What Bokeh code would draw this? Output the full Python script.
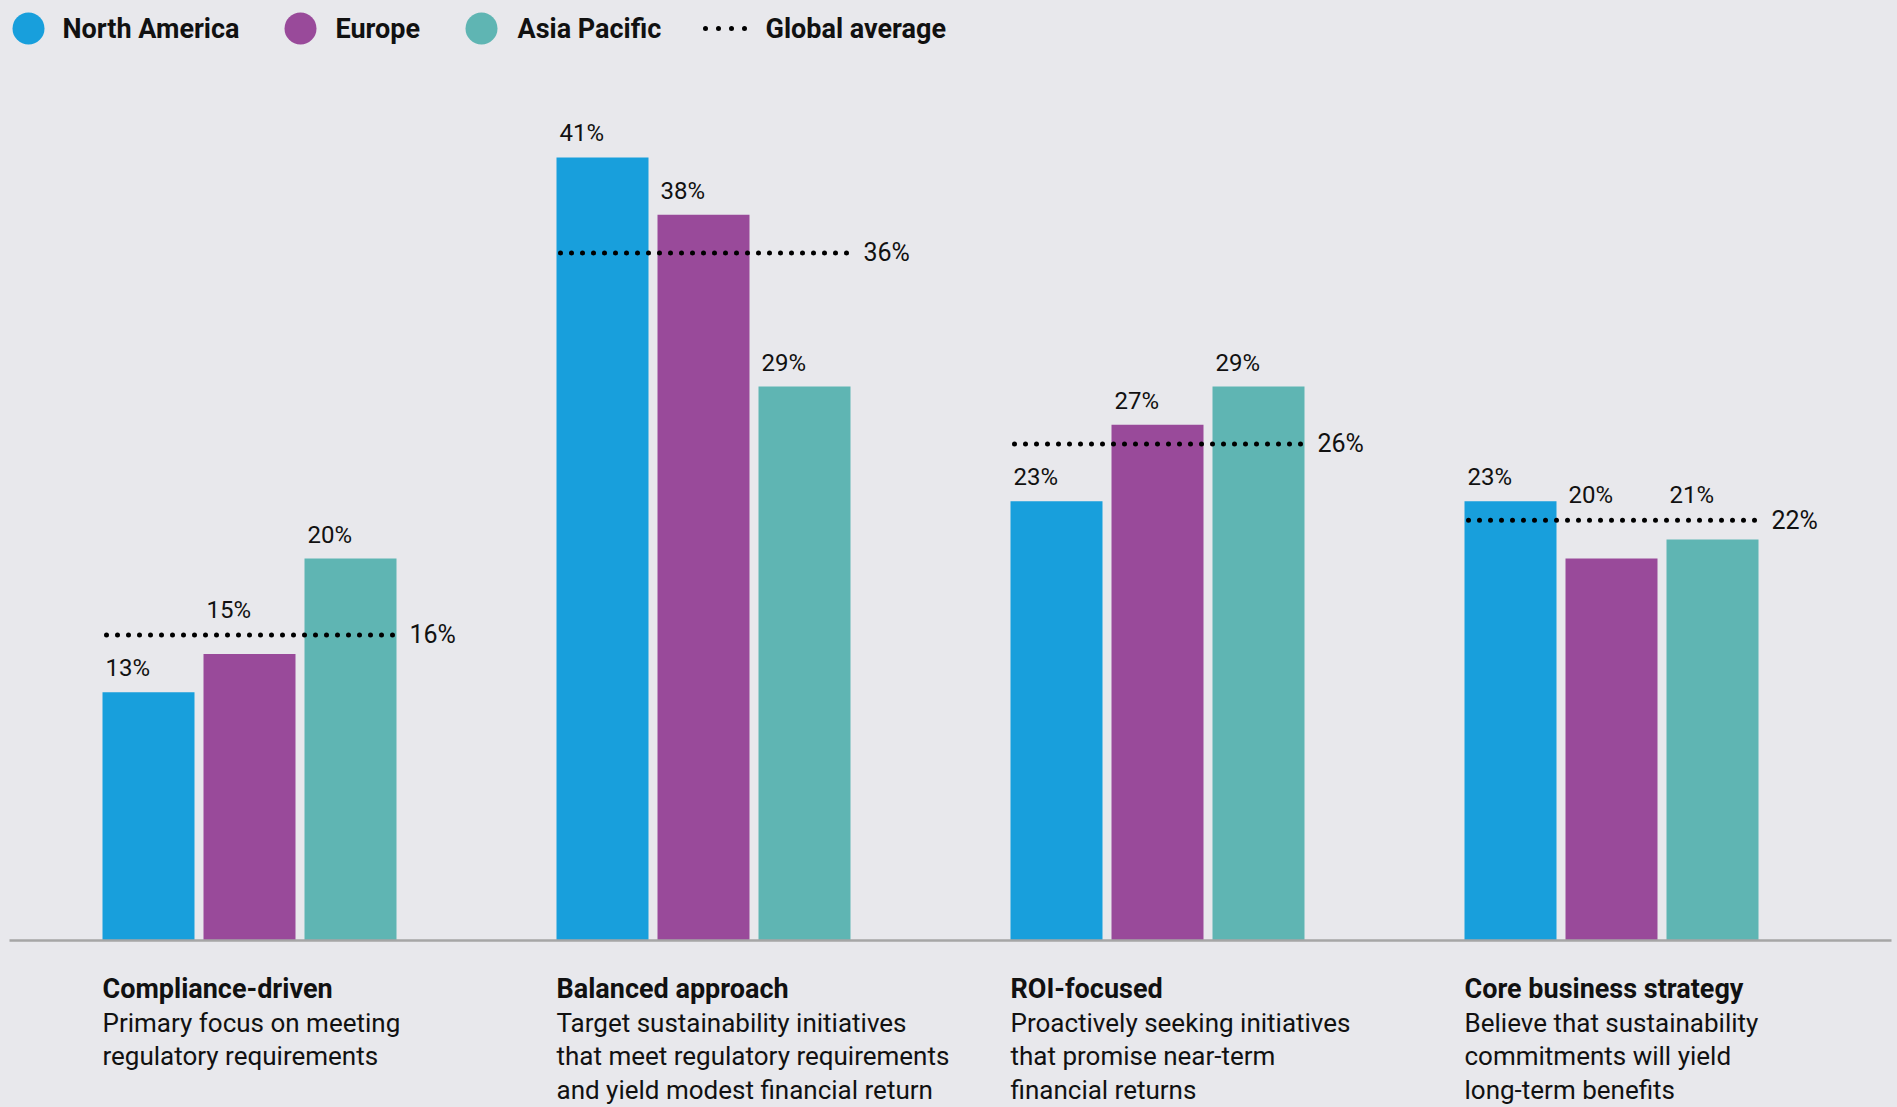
from bokeh.plotting import figure
from bokeh.models import Range1d
from bokeh.embed import file_html
from bokeh.resources import INLINE
from bokeh.core.properties import value

# ---------------- data ----------------
categories = ["Compliance-driven", "Balanced approach", "ROI-focused", "Core business strategy"]
descriptions = [
    ["Primary focus on meeting", "regulatory requirements"],
    ["Target sustainability initiatives", "that meet regulatory requirements", "and yield modest financial return"],
    ["Proactively seeking initiatives", "that promise near-term", "financial returns"],
    ["Believe that sustainability", "commitments will yield", "long-term benefits"],
]
series_names = ["North America", "Europe", "Asia Pacific"]
north_america = [13, 41, 23, 23]
europe = [15, 38, 27, 20]
asia_pacific = [20, 29, 29, 21]
global_average = [16, 36, 26, 22]
average_name = "Global average"

# ---------------- style / layout ----------------
colors = ["#189fdc", "#994a9a", "#5fb5b3"]
BG = "#e8e8ec"
FONT = "Roboto"
W, H = 1897, 1107
PX = 19.1            # pixels per percentage point
BASE = 940           # screen y of zero line
GROUP0 = 102         # left edge of first bar
GROUP_PITCH = 454
BAR_PITCH = 101
BAR_W = 92


def py(screen_y):
    return (BASE - screen_y) / PX


p = figure(width=W, height=H, output_backend="svg", toolbar_location=None,
           x_range=Range1d(0, W), y_range=Range1d(py(H), py(0)),
           min_border=0, outline_line_color=None,
           background_fill_color=BG, border_fill_color=BG)
p.axis.visible = False
p.grid.visible = False

all_series = [north_america, europe, asia_pacific]

# bars
for j, (vals, col) in enumerate(zip(all_series, colors)):
    lefts = [GROUP0 + GROUP_PITCH * k + BAR_PITCH * j for k in range(len(vals))]
    rights = [l + BAR_W for l in lefts]
    p.quad(left=lefts, right=rights, bottom=[0] * len(vals), top=vals,
           fill_color=col, line_color=None)

# zero line
p.segment(x0=[9], x1=[1891], y0=[0], y1=[0], line_color="#a6a6a6", line_width=2.5)

# average dotted lines + labels
ax0 = [GROUP0 + GROUP_PITCH * k + 4 for k in range(len(global_average))]
ax1 = [GROUP0 + GROUP_PITCH * k + 2 * BAR_PITCH + BAR_W - 3 for k in range(len(global_average))]
p.segment(x0=ax0, x1=ax1, y0=global_average, y1=global_average,
          line_color="black", line_width=5, line_dash="0 11", line_cap="round")
p.text(x=[x + 16 for x in ax1], y=global_average,
       text=[f"{v}%" for v in global_average],
       text_font=value(FONT), text_font_size="25px", text_color="#111111",
       text_baseline="middle", text_align="left")

# value labels
lx, ly, lt = [], [], []
for j, vals in enumerate(all_series):
    for k, v in enumerate(vals):
        avg = global_average[k]
        lx.append(GROUP0 + GROUP_PITCH * k + BAR_PITCH * j + 3)
        if 0 < avg - v < 2.5:
            ly.append(avg + 25 / PX)
        else:
            ly.append(v + 24 / PX)
        lt.append(f"{v}%")
p.text(x=lx, y=ly, text=lt, text_font=value(FONT), text_font_size="24px",
       text_color="#111111", text_baseline="middle", text_align="left")

# category titles + descriptions
tx = [GROUP0 + GROUP_PITCH * k for k in range(len(categories))]
p.text(x=tx, y=[py(988)] * len(categories), text=categories,
       text_font=value(FONT), text_font_style="bold", text_font_size="27px",
       text_color="#111111", text_baseline="middle", text_align="left")
dx, dy, dt = [], [], []
for k, lines in enumerate(descriptions):
    for i, line in enumerate(lines):
        dx.append(tx[k])
        dy.append(py(1022 + 33.5 * i))
        dt.append(line)
p.text(x=dx, y=dy, text=dt, text_font=value(FONT), text_font_size="26px",
       text_color="#111111", text_baseline="middle", text_align="left")

# legend
leg_y = py(28)
circle_x = [28, 300, 481]
p.scatter(x=circle_x, y=[leg_y] * 3, size=32, marker="circle",
          fill_color=colors, line_color=None)
p.text(x=[62, 335, 517, 765], y=[leg_y] * 4, text=series_names + [average_name],
       text_font=value(FONT), text_font_style="bold", text_font_size="27px",
       text_color="#111111", text_baseline="middle", text_align="left")
p.segment(x0=[705], x1=[746], y0=[leg_y], y1=[leg_y], line_color="black",
          line_width=5, line_dash="0 13", line_cap="round")

html = file_html(p, INLINE).replace("<head>", "<head><style>body{background:%s;}</style>" % BG, 1)
open("out.html", "w").write(html)
